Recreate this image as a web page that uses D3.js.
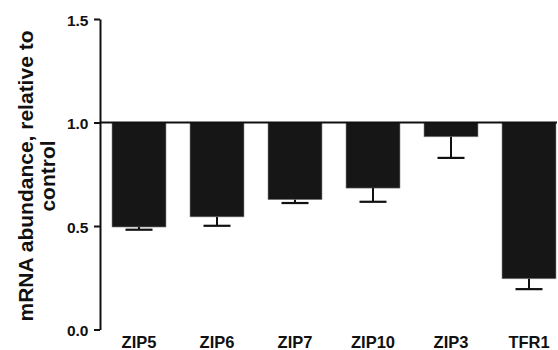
<!DOCTYPE html>
<html>
<head>
<meta charset="utf-8">
<script src="https://cdn.jsdelivr.net/npm/d3@7"></script>
<style>
  body { margin: 0; background: #fff; }
  text { font-family: "Liberation Sans", Arial, sans-serif; font-weight: bold; fill: #111; }
</style>
</head>
<body>
<div id="chart"></div>
<script>
const genes = ["ZIP5", "ZIP6", "ZIP7", "ZIP10", "ZIP3", "TFR1"];
const means = [0.495, 0.544, 0.627, 0.683, 0.931, 0.245];
const errs = [0.013, 0.043, 0.016, 0.066, 0.102, 0.050];
const yTicks = [0.0, 0.5, 1.0, 1.5];

const width = 558, height = 350;
const svg = d3.select("#chart").append("svg")
    .attr("width", width)
    .attr("height", height);

const x = d3.scaleBand().domain(genes).range([112, 556]).paddingInner(24 / 78).paddingOuter(0);
const y = d3.scaleLinear().domain([0, 1.5]).range([329.5, 19]);

// y axis
const yAxis = svg.append("g")
    .attr("transform", "translate(100,0)")
    .call(d3.axisLeft(y).tickValues(yTicks).tickFormat(d3.format(".1f")).tickSize(6).tickSizeOuter(0));
yAxis.select(".domain").attr("stroke", "#111").attr("stroke-width", 2);
yAxis.selectAll(".tick line").attr("stroke", "#111").attr("stroke-width", 2);
yAxis.selectAll(".tick text").attr("x", -11.5).attr("dy", "0.4em")
    .style("font-size", "15.5px").style("font-family", "Liberation Sans, Arial, sans-serif")
    .style("font-weight", "bold").attr("fill", "#111");

// bars hanging from 1.0
svg.selectAll(".bar")
    .data(genes)
    .enter().append("rect")
    .attr("class", "bar")
    .attr("x", d => x(d))
    .attr("y", y(1))
    .attr("width", x.bandwidth())
    .attr("height", (d, i) => y(means[i]) - y(1))
    .attr("fill", "#161616")
    .attr("stroke", "#8a8a8a")
    .attr("stroke-width", 0.6);

// error bars
const eb = svg.selectAll(".err")
    .data(genes)
    .enter().append("g")
    .attr("class", "err");
eb.append("line")
    .attr("x1", d => x(d) + x.bandwidth() / 2)
    .attr("x2", d => x(d) + x.bandwidth() / 2)
    .attr("y1", (d, i) => y(means[i]))
    .attr("y2", (d, i) => y(means[i] - errs[i]))
    .attr("stroke", "#111").attr("stroke-width", 2);
eb.append("line")
    .attr("x1", d => x(d) + x.bandwidth() / 2 - 13.5)
    .attr("x2", d => x(d) + x.bandwidth() / 2 + 13.5)
    .attr("y1", (d, i) => y(means[i] - errs[i]))
    .attr("y2", (d, i) => y(means[i] - errs[i]))
    .attr("stroke", "#111").attr("stroke-width", 2.2);

// reference line at 1.0
svg.append("line")
    .attr("x1", 100).attr("x2", 557)
    .attr("y1", y(1)).attr("y2", y(1))
    .attr("stroke", "#111").attr("stroke-width", 2);

// x labels
svg.selectAll(".xlab")
    .data(genes)
    .enter().append("text")
    .attr("class", "xlab")
    .attr("x", d => x(d) + x.bandwidth() / 2)
    .attr("y", 348)
    .attr("text-anchor", "middle")
    .style("font-size", "16.5px")
    .text(d => d);

// y label
const yl = svg.append("text")
    .attr("transform", "translate(0,176) rotate(-90)")
    .attr("text-anchor", "middle")
    .style("font-size", "21px");
yl.append("tspan").attr("x", 0).attr("y", 32.5).text("mRNA abundance, relative to");
yl.append("tspan").attr("x", 0).attr("y", 54.5).text("control");
</script>
</body>
</html>
